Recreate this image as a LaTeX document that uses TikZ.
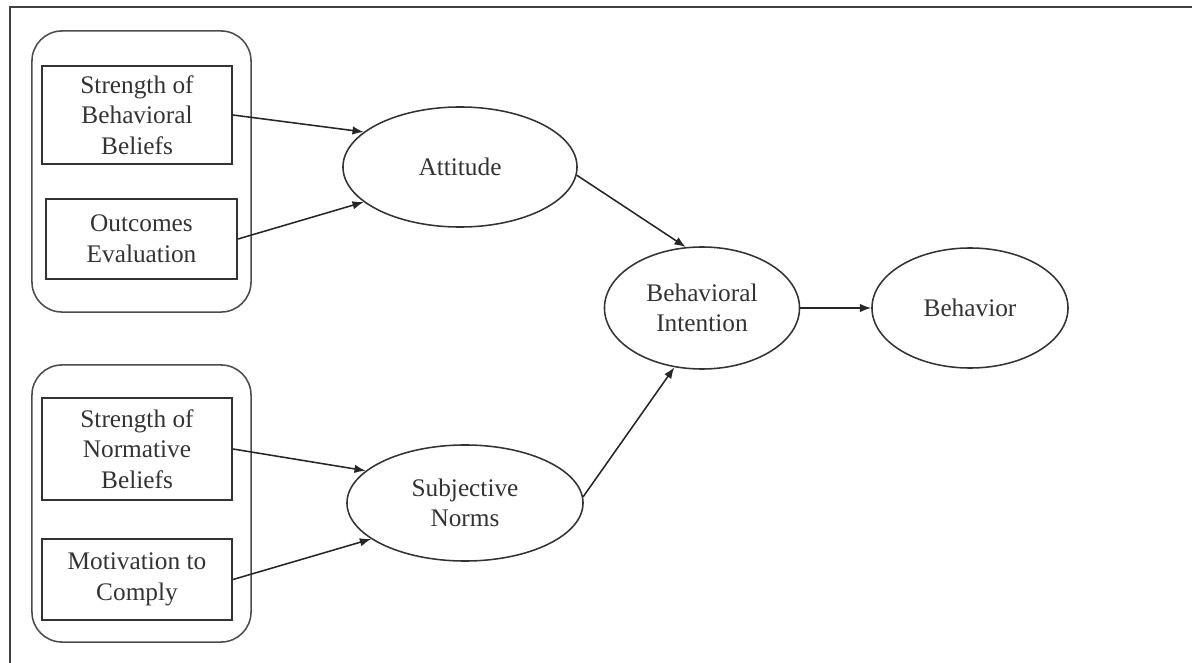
\documentclass[tikz,border=0pt]{standalone}
\usepackage{fontspec}
\setmainfont{Liberation Serif}
\usetikzlibrary{shapes.geometric,arrows.meta}

\begin{document}
\begin{tikzpicture}[x=0.025cm,y=-0.025cm,
  every node/.style={font=\fontsize{18}{21.7}\selectfont, text=black!80, align=center},
  itembox/.style={draw=black!80, line width=1.4pt, inner sep=0pt, minimum width=4.75cm},
  grpbox/.style={draw=black!70, line width=1.1pt, rounded corners=0.75cm, inner sep=0pt, minimum width=5.475cm},
  construct/.style={ellipse, draw=black!80, line width=1.1pt, inner sep=0pt},
  link/.style={-{Latex[length=8pt,width=6pt]}, line width=1.1pt, draw=black!85}]
  \useasboundingbox (0,0) rectangle (1192,663);
  % frame
  \draw[line width=1.6pt, black!75] (10,663) -- (10,7) -- (1192,7);

  % groups
  \node[grpbox, minimum height=7.025cm] (grpA) at (141.5,171.5) {};
  \node[grpbox, minimum height=6.925cm] (grpB) at (141.5,503.5) {};

  % belief boxes
  \node[itembox, minimum height=2.45cm] (behB) at (137,115) {Strength of\\Behavioral\\Beliefs};
  \node[itembox, minimum width=4.775cm, minimum height=2cm] (outEv) at (141.5,239) {Outcomes\\Evaluation};
  \node[itembox, minimum height=2.55cm] (normB) at (137,449) {Strength of\\Normative\\Beliefs};
  \node[itembox, minimum height=2.025cm] (motiv) at (137,579.5) {Motivation to\\Comply};

  % constructs
  \node[construct, minimum width=5.85cm, minimum height=3cm] (att) at (460,167) {Attitude};
  \node[construct, minimum width=5.9cm, minimum height=2.9cm] (sn) at (465,503) {Subjective\\Norms};
  \node[construct, minimum width=4.875cm, minimum height=3.05cm] (bi) at (702,308) {Behavioral\\Intention};
  \node[construct, minimum width=4.9cm, minimum height=3cm] (beh) at (970,308) {Behavior};

  % paths
  \draw[link] (behB.east) -- (att.160);
  \draw[link] (outEv.east) -- (att.200);
  \draw[link] (normB.east) -- (sn.162);
  \draw[link] (motiv.east) -- (sn.201);
  \draw[link] (att.-4) -- (bi.105);
  \draw[link] (sn.3) -- (bi.245);
  \draw[link] (bi.east) -- (beh.west);
\end{tikzpicture}
\end{document}
